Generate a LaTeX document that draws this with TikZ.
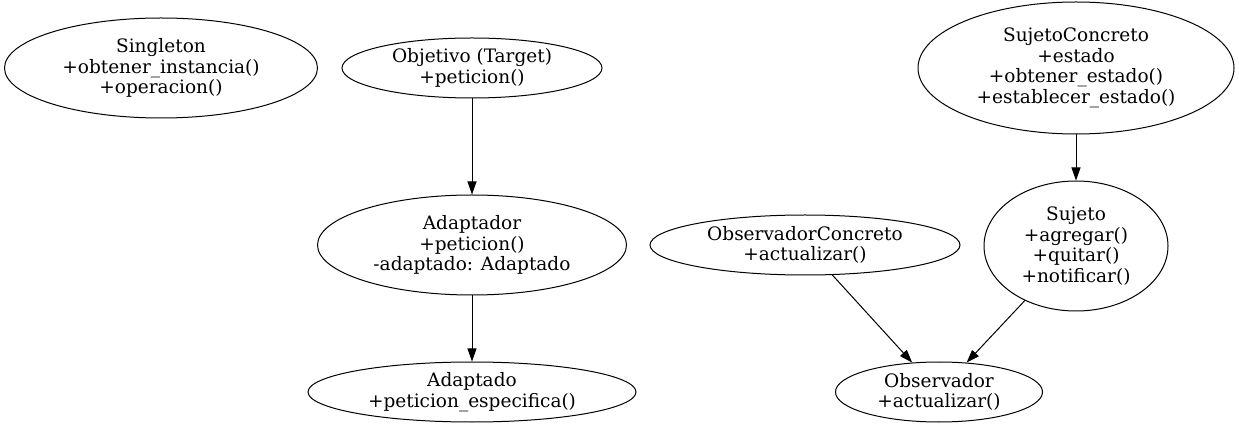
\documentclass[tikz,border=0pt]{standalone}
\usepackage{fontspec}
\setmainfont{DejaVu Serif}
\usepackage{tikz}
\usetikzlibrary{shapes.geometric, arrows.meta, positioning}

\begin{document}
\begin{tikzpicture}[x=1pt, y=-1pt, >={Triangle[length=13pt,width=9pt]},
    clase/.style={ellipse, draw, line width=1pt, inner sep=0pt, align=center,
        font=\fontsize{18.5}{20.5}\selectfont},
    flecha/.style={->, line width=1pt}]
    \useasboundingbox (0,0) rectangle (1239,435);

    % patron singleton
    \node[clase, minimum width=313, minimum height=100] (singleton) at (161,68)
        {Singleton\\+obtener\_instancia()\\+operacion()};

    % patron adaptador
    \node[clase, minimum width=260, minimum height=60] (objetivo) at (472,68)
        {Objetivo (Target)\\+peticion()};
    \node[clase, minimum width=309, minimum height=100] (adaptador) at (472,245)
        {Adaptador\\+peticion()\\-adaptado: Adaptado};
    \node[clase, minimum width=328, minimum height=60] (adaptado) at (472,392)
        {Adaptado\\+peticion\_especifica()};
    \draw[flecha] (objetivo) -- (adaptador);
    \draw[flecha] (adaptador) -- (adaptado);

    % patron observador
    \node[clase, minimum width=316, minimum height=132] (sujetoconcreto) at (1076,68)
        {SujetoConcreto\\+estado\\+obtener\_estado()\\+establecer\_estado()};
    \node[clase, minimum width=184, minimum height=130] (sujeto) at (1076,246)
        {Sujeto\\+agregar()\\+quitar()\\+notificar()};
    \node[clase, minimum width=310, minimum height=60] (obsconcreto) at (805,245)
        {ObservadorConcreto\\+actualizar()};
    \node[clase, minimum width=207, minimum height=60] (observador) at (939,392)
        {Observador\\+actualizar()};
    \draw[flecha] (sujetoconcreto) -- (sujeto);
    \draw[flecha] (obsconcreto) -- (observador);
    \draw[flecha] (sujeto) -- (observador);
\end{tikzpicture}
\end{document}
